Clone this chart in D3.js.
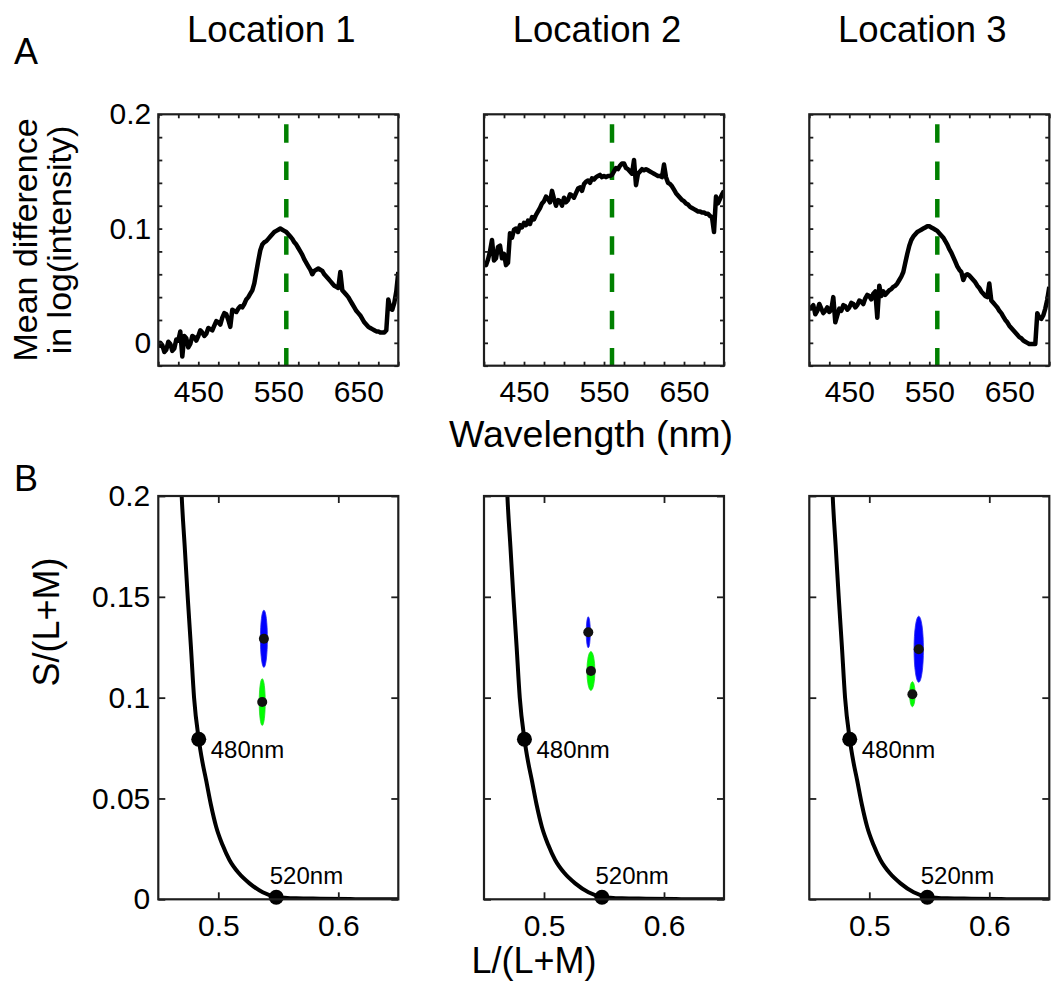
<!DOCTYPE html>
<html><head><meta charset="utf-8">
<script src="https://cdn.jsdelivr.net/npm/d3@7"></script>
<style>
body{margin:0;background:#fff}
svg{display:block}
text{font-family:"Liberation Sans",Arial,Helvetica,sans-serif;fill:#000}
</style>
</head><body><svg id="chart" width="1051" height="988"></svg>
<script>
// ---------------- DATA ----------------
const locations = ["Location 1", "Location 2", "Location 3"];
const wavelengths = [400,402.5,405,407.5,410,412.5,415,417.5,420,422.5,425,427.5,430,432.5,435,437.5,440,442.5,445,447.5,
  450,452.5,455,457.5,460,462.5,465,467.5,470,472.5,475,477.5,480,482.5,485,487.5,490,492.5,495,497.5,
  500,502.5,505,507.5,510,512.5,515,517.5,520,522.5,525,527.5,530,532.5,535,537.5,540,542.5,545,547.5,
  550,552.5,555,557.5,560,562.5,565,567.5,570,572.5,575,577.5,580,582.5,585,587.5,590,592.5,595,597.5,
  600,602.5,605,607.5,610,612.5,615,617.5,620,622.5,625,627.5,630,632.5,635,637.5,640,642.5,645,647.5,
  650,652.5,655,657.5,660,662.5,665,667.5,670,672.5,675,677.5,680,682.5,685,687.5,690,692.5,695,697.5,700];
const diffLoc1 = [-0.004,0.000,-0.002,-0.008,-0.006,0.001,-0.001,-0.007,-0.005,0.003,0.002,0.010,-0.012,0.006,0.004,-0.004,-0.001,0.006,0.005,0.002,
  0.006,0.011,0.009,0.006,0.008,0.013,0.012,0.011,0.015,0.019,0.018,0.016,0.022,0.026,0.025,0.020,0.014,0.029,0.028,0.027,
  0.030,0.032,0.031,0.034,0.038,0.040,0.043,0.046,0.052,0.062,0.072,0.081,0.086,0.088,0.089,0.091,0.093,0.095,0.097,0.098,
  0.099,0.100,0.099,0.098,0.097,0.095,0.093,0.091,0.088,0.086,0.083,0.080,0.077,0.073,0.070,0.067,0.064,0.060,0.063,0.064,
  0.065,0.064,0.063,0.060,0.058,0.056,0.054,0.052,0.050,0.049,0.048,0.062,0.046,0.044,0.042,0.040,0.037,0.034,0.031,0.028,
  0.026,0.024,0.021,0.018,0.016,0.014,0.013,0.012,0.011,0.010,0.010,0.009,0.009,0.009,0.011,0.038,0.030,0.029,0.035,0.045,0.062];
const diffLoc2 = [0.070,0.068,0.073,0.080,0.090,0.072,0.074,0.084,0.085,0.074,0.078,0.068,0.070,0.096,0.092,0.099,0.100,0.097,0.103,0.101,
  0.105,0.103,0.107,0.104,0.110,0.108,0.112,0.115,0.118,0.122,0.124,0.128,0.126,0.123,0.133,0.126,0.120,0.125,0.124,0.120,
  0.127,0.123,0.125,0.130,0.129,0.127,0.131,0.135,0.136,0.133,0.139,0.141,0.142,0.140,0.144,0.143,0.145,0.146,0.147,0.145,
  0.146,0.145,0.146,0.146,0.147,0.150,0.153,0.152,0.155,0.157,0.157,0.153,0.152,0.150,0.148,0.160,0.138,0.148,0.150,0.152,
  0.151,0.152,0.151,0.150,0.149,0.148,0.147,0.146,0.146,0.145,0.156,0.145,0.140,0.139,0.137,0.134,0.131,0.129,0.127,0.125,
  0.124,0.122,0.121,0.119,0.118,0.117,0.116,0.115,0.115,0.114,0.114,0.113,0.113,0.111,0.110,0.097,0.128,0.122,0.126,0.130,0.133];
const diffLoc3 = [0.029,0.031,0.033,0.025,0.028,0.034,0.030,0.026,0.028,0.031,0.027,0.029,0.040,0.018,0.024,0.030,0.028,0.033,0.032,0.029,
  0.031,0.035,0.034,0.031,0.033,0.037,0.036,0.034,0.039,0.042,0.041,0.038,0.043,0.045,0.022,0.050,0.041,0.045,0.042,0.044,
  0.046,0.047,0.049,0.050,0.052,0.055,0.058,0.062,0.070,0.078,0.085,0.090,0.093,0.095,0.097,0.098,0.099,0.100,0.101,0.102,
  0.102,0.101,0.100,0.099,0.098,0.096,0.094,0.092,0.089,0.086,0.082,0.079,0.075,0.071,0.067,0.064,0.062,0.055,0.059,0.060,
  0.059,0.057,0.055,0.053,0.050,0.048,0.045,0.043,0.041,0.040,0.052,0.037,0.035,0.033,0.031,0.028,0.026,0.023,0.020,0.018,
  0.015,0.013,0.011,0.009,0.007,0.005,0.004,0.002,0.001,0.000,-0.001,-0.001,-0.001,-0.001,0.026,0.022,0.021,0.024,0.030,0.038,0.049];
const peakWavelength = 560;
const wlTicks = [400,425,450,475,500,525,550,575,600,625,650,675,700];
const wlTickLabels = [450,550,650];
const diffTicks = [-0.02,0,0.02,0.04,0.06,0.08,0.1,0.12,0.14,0.16,0.18,0.2];
const diffTickLabels = [0,0.1,0.2];

// spectral locus (MacLeod-Boynton)
const locusL = [0.4688,0.4695,0.4720,0.4745,0.4772,0.4798,0.4837,0.4868,0.4898,0.4938,0.4982,0.5035,0.5093,0.5170,0.5260,0.5370,0.5483,0.5650,0.5850,0.6100,0.6300,0.6500,0.6520];
const locusS = [0.2100,0.2000,0.1750,0.1500,0.1250,0.1000,0.0794,0.0680,0.0592,0.0470,0.0360,0.0270,0.0195,0.0130,0.0079,0.0035,0.0012,0.0005,0.0003,0.0001,0.0000,0.0000,0.0000];
const markerL = [0.4837, 0.5483];
const markerS = [0.0794, 0.0010];
const markerLabels = ["480nm", "520nm"];
const lTicks = [0.5, 0.6];
const sTicks = [0, 0.05, 0.1, 0.15, 0.2];
const sTickLabels = ["0", "0.05", "0.1", "0.15", "0.2"];
// ellipses per location: center and half-axes
const blueL  = [0.5380, 0.5369, 0.5412];
const blueS  = [0.1292, 0.1324, 0.1240];
const blueRL = [0.0029, 0.0017, 0.0039];
const blueRS = [0.0142, 0.0077, 0.0164];
const greenL  = [0.5366, 0.5391, 0.5359];
const greenS  = [0.0978, 0.1132, 0.1017];
const greenRL = [0.0025, 0.0033, 0.0023];
const greenRS = [0.0116, 0.0097, 0.0062];

// ---------------- LAYOUT ----------------
const svg = d3.select("#chart");
const panelX = [158.3, 484, 809.3];
const panelW = 240;
const top0 = 114.3, top1 = 365.7;
const bot0 = 496, bot1 = 899.3;
const axisColor = "#1e1e1e";
const tickFont = 30;
const series = [diffLoc1, diffLoc2, diffLoc3];

function styleAxis(g, showText) {
  g.select(".domain").remove();
  g.selectAll(".tick line").attr("stroke", axisColor).attr("stroke-width", 1.8);
  g.selectAll(".tick text").attr("font-size", tickFont).attr("fill", "#000")
    .style("font-family", '"Liberation Sans",Arial,Helvetica,sans-serif');
  if (!showText) g.selectAll(".tick text").remove();
}

const defs = svg.append("defs");

locations.forEach((loc, i) => {
  const x0 = panelX[i];
  // ---------- Top panel ----------
  const xw = d3.scaleLinear().domain([400, 700]).range([x0, x0 + panelW]);
  const yd = d3.scaleLinear().domain([-0.02, 0.2]).range([top1, top0]);
  const clipT = "clipT" + i;
  defs.append("clipPath").attr("id", clipT).append("rect")
    .attr("x", x0).attr("y", top0).attr("width", panelW).attr("height", top1 - top0);

  const gT = svg.append("g");
  gT.append("line").attr("clip-path", `url(#${clipT})`)
    .attr("x1", xw(peakWavelength)).attr("x2", xw(peakWavelength))
    .attr("y1", yd(0.2)).attr("y2", yd(-0.02))
    .attr("stroke", "#008000").attr("stroke-width", 4.5)
    .attr("stroke-dasharray", "18.5,18.8").attr("stroke-dashoffset", 27.3);

  const line = d3.line().x((d, k) => xw(wavelengths[k])).y(d => yd(d));
  gT.append("path").attr("clip-path", `url(#${clipT})`)
    .datum(series[i]).attr("d", line)
    .attr("fill", "none").attr("stroke", "#000").attr("stroke-width", 4.5)
    .attr("stroke-linejoin", "round");

  gT.append("g").attr("transform", `translate(0,${top1})`)
    .call(d3.axisBottom(xw).tickValues(wlTicks).tickSize(-4).tickPadding(15)
      .tickFormat(d => wlTickLabels.includes(d) ? d : ""))
    .call(g => styleAxis(g, true));
  gT.append("g").attr("transform", `translate(0,${top0})`)
    .call(d3.axisTop(xw).tickValues(wlTicks).tickSize(-4)).call(g => styleAxis(g, false));
  gT.append("g").attr("transform", `translate(${x0},0)`)
    .call(d3.axisLeft(yd).tickValues(diffTicks).tickSize(-4).tickPadding(7)
      .tickFormat(d => diffTickLabels.some(v => Math.abs(v - d) < 1e-9) ? d3.format("")(+d.toFixed(2)) : ""))
    .call(g => styleAxis(g, i === 0));
  gT.append("g").attr("transform", `translate(${x0 + panelW},0)`)
    .call(d3.axisRight(yd).tickValues(diffTicks).tickSize(-4)).call(g => styleAxis(g, false));
  gT.append("rect").attr("x", x0).attr("y", top0).attr("width", panelW).attr("height", top1 - top0)
    .attr("fill", "none").attr("stroke", axisColor).attr("stroke-width", 2.2);

  svg.append("text").attr("x", x0 + panelW / 2 - 7).attr("y", 42)
    .attr("text-anchor", "middle").attr("font-size", 36.5).text(loc);

  // ---------- Bottom panel ----------
  const xl = d3.scaleLinear().domain([0.45, 0.65]).range([x0, x0 + panelW]);
  const ys = d3.scaleLinear().domain([0, 0.2]).range([bot1, bot0]);
  const clipB = "clipB" + i;
  defs.append("clipPath").attr("id", clipB).append("rect")
    .attr("x", x0).attr("y", bot0).attr("width", panelW).attr("height", bot1 - bot0);
  const gB = svg.append("g");
  const locusLine = d3.line().x((d, k) => xl(locusL[k])).y(d => ys(d)).curve(d3.curveMonotoneX);
  gB.append("path").attr("clip-path", `url(#${clipB})`)
    .datum(locusS).attr("d", locusLine)
    .attr("fill", "none").attr("stroke", "#000").attr("stroke-width", 4);

  // ellipses
  gB.append("ellipse")
    .attr("cx", xl(blueL[i])).attr("cy", ys(blueS[i]))
    .attr("rx", xl(blueL[i] + blueRL[i]) - xl(blueL[i])).attr("ry", ys(blueS[i]) - ys(blueS[i] + blueRS[i]))
    .attr("fill", "#0000ff").attr("stroke", "#2a2aee").attr("stroke-width", 0.8);
  gB.append("ellipse")
    .attr("cx", xl(greenL[i])).attr("cy", ys(greenS[i]))
    .attr("rx", xl(greenL[i] + greenRL[i]) - xl(greenL[i])).attr("ry", ys(greenS[i]) - ys(greenS[i] + greenRS[i]))
    .attr("fill", "#00ff00").attr("stroke", "#22dd22").attr("stroke-width", 0.8);
  gB.append("circle").attr("cx", xl(blueL[i])).attr("cy", ys(blueS[i])).attr("r", 5).attr("fill", "#111");
  gB.append("circle").attr("cx", xl(greenL[i])).attr("cy", ys(greenS[i])).attr("r", 5).attr("fill", "#111");

  // locus markers
  markerL.forEach((m, k) => {
    gB.append("circle").attr("cx", xl(m)).attr("cy", ys(markerS[k])).attr("r", 7.5).attr("fill", "#000");
  });
  gB.append("text").attr("x", xl(markerL[0]) + 12).attr("y", ys(markerS[0]) + 19)
    .attr("font-size", 24).text(markerLabels[0]);
  gB.append("text").attr("x", xl(markerL[1]) - 6.5).attr("y", ys(markerS[1]) - 13)
    .attr("font-size", 24).text(markerLabels[1]);

  gB.append("g").attr("transform", `translate(0,${bot1})`)
    .call(d3.axisBottom(xl).tickValues(lTicks).tickSize(-7).tickPadding(15).tickFormat(d3.format("")))
    .call(g => styleAxis(g, true));
  gB.append("g").attr("transform", `translate(0,${bot0})`)
    .call(d3.axisTop(xl).tickValues(lTicks).tickSize(-7)).call(g => styleAxis(g, false));
  gB.append("g").attr("transform", `translate(${x0},0)`)
    .call(d3.axisLeft(ys).tickValues(sTicks).tickSize(-7).tickPadding(8)
      .tickFormat((d, k) => sTickLabels[k]))
    .call(g => styleAxis(g, i === 0));
  gB.append("g").attr("transform", `translate(${x0 + panelW},0)`)
    .call(d3.axisRight(ys).tickValues(sTicks).tickSize(-7)).call(g => styleAxis(g, false));
  gB.append("rect").attr("x", x0).attr("y", bot0).attr("width", panelW).attr("height", bot1 - bot0)
    .attr("fill", "none").attr("stroke", axisColor).attr("stroke-width", 2.2);
});

// panel letters
svg.append("text").attr("x", 14).attr("y", 64).attr("font-size", 36).text("A");
svg.append("text").attr("x", 14).attr("y", 491).attr("font-size", 36).text("B");

// axis labels
svg.append("text").attr("transform", "translate(37,240) rotate(-90)")
  .attr("text-anchor", "middle").attr("font-size", 34).text("Mean difference");
svg.append("text").attr("transform", "translate(71,240) rotate(-90)")
  .attr("text-anchor", "middle").attr("font-size", 34).text("in log(intensity)");
svg.append("text").attr("x", 591).attr("y", 447)
  .attr("text-anchor", "middle").attr("font-size", 37.5).text("Wavelength (nm)");
svg.append("text").attr("transform", "translate(59,622) rotate(-90)")
  .attr("text-anchor", "middle").attr("font-size", 36).text("S/(L+M)");
svg.append("text").attr("x", 534).attr("y", 973)
  .attr("text-anchor", "middle").attr("font-size", 36).text("L/(L+M)");
</script></body></html>
